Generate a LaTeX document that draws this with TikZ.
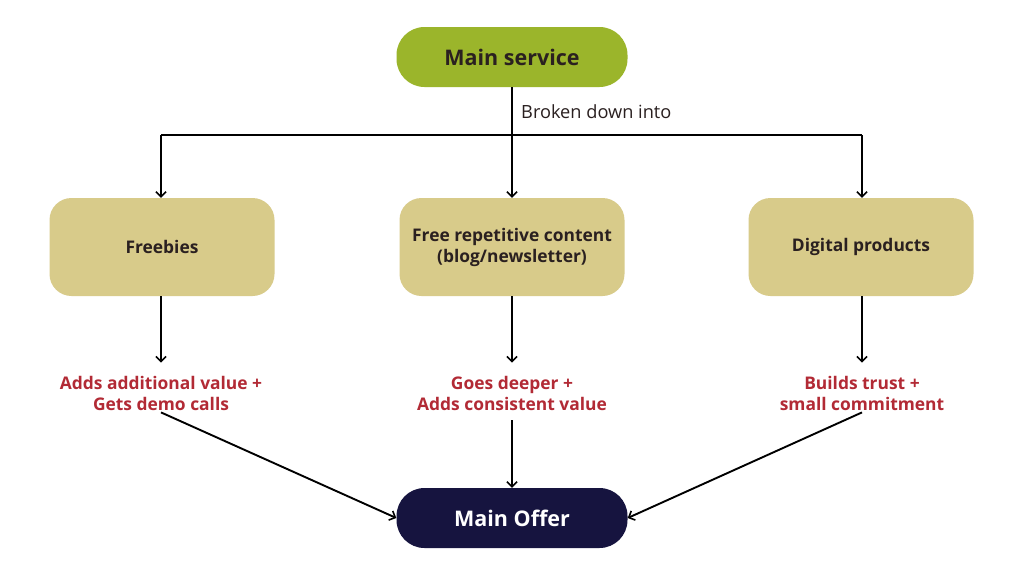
\documentclass[tikz,border=0pt]{standalone}
\usepackage{fontspec}
\setmainfont{Open Sans}
\usetikzlibrary{arrows.meta}
\definecolor{msgreen}{HTML}{9BB52B}
\definecolor{tan}{HTML}{D8CB8A}
\definecolor{navy}{HTML}{16143F}
\definecolor{redtxt}{HTML}{B22A35}
\definecolor{darktxt}{HTML}{2A2020}
\begin{document}
\begin{tikzpicture}[x=1pt,y=-1pt,
  conn/.style={line width=1.9pt, black},
  arr/.style={conn, -{Straight Barb[length=5pt,width=10pt,line width=1.6pt]}},
  pill/.style={minimum width=231pt, minimum height=60pt, rounded corners=28pt, inner sep=0pt, font=\fontsize{21.5}{25}\selectfont\bfseries},
  midbox/.style={fill=tan, minimum width=225pt, minimum height=98pt, rounded corners=22pt, inner sep=0pt, align=center, text=darktxt, font=\fontsize{17.4}{21}\selectfont\bfseries},
  redlbl/.style={text=redtxt, align=center, inner sep=2pt, font=\fontsize{17.4}{21}\selectfont\bfseries},
]
\useasboundingbox[fill=white] (0,0) rectangle (1024,576);
\node[pill, fill=msgreen, text=darktxt] (ms) at (512,57) {Main service};
\node[midbox] (b1) at (162,247) {Freebies};
\node[midbox] (b2) at (512,247) {Free repetitive content\\(blog/newsletter)};
\node[midbox] (b3) at (861,247) {Digital products};
\node[redlbl] (r1) at (161,393) {Adds additional value +\\Gets demo calls};
\node[redlbl] (r2) at (512,393) {Goes deeper +\\Adds consistent value};
\node[redlbl] (r3) at (862,393) {Builds trust +\\small commitment};
\node[pill, fill=navy, text=white] (mo) at (512,518) {Main Offer};
\coordinate (j) at (512,135);
\coordinate (jl) at (161,135);
\coordinate (jr) at (862,135);
\node[anchor=west, inner sep=0pt, font=\fontsize{18.2}{21}\selectfont, text=darktxt] (lbl) at (521,112) {Broken down into};
\draw[conn] (ms.south) -- (j);
\draw[conn] (jl) -- (jr);
\draw[arr] (jl) -- (b1.north -| jl);
\draw[arr] (j) -- (b2.north);
\draw[arr] (jr) -- (b3.north -| jr);
\draw[arr, shorten >=11pt] (b1.south -| r1) -- (r1.north);
\draw[arr, shorten >=11pt] (b2.south) -- (r2.north);
\draw[arr, shorten >=11pt] (b3.south -| r3) -- (r3.north);
\draw[arr] (r1.south) -- (mo.west);
\draw[arr, shorten <=8pt] (r2.south) -- (mo.north);
\draw[arr] (r3.south) -- (mo.east);
\end{tikzpicture}
\end{document}
